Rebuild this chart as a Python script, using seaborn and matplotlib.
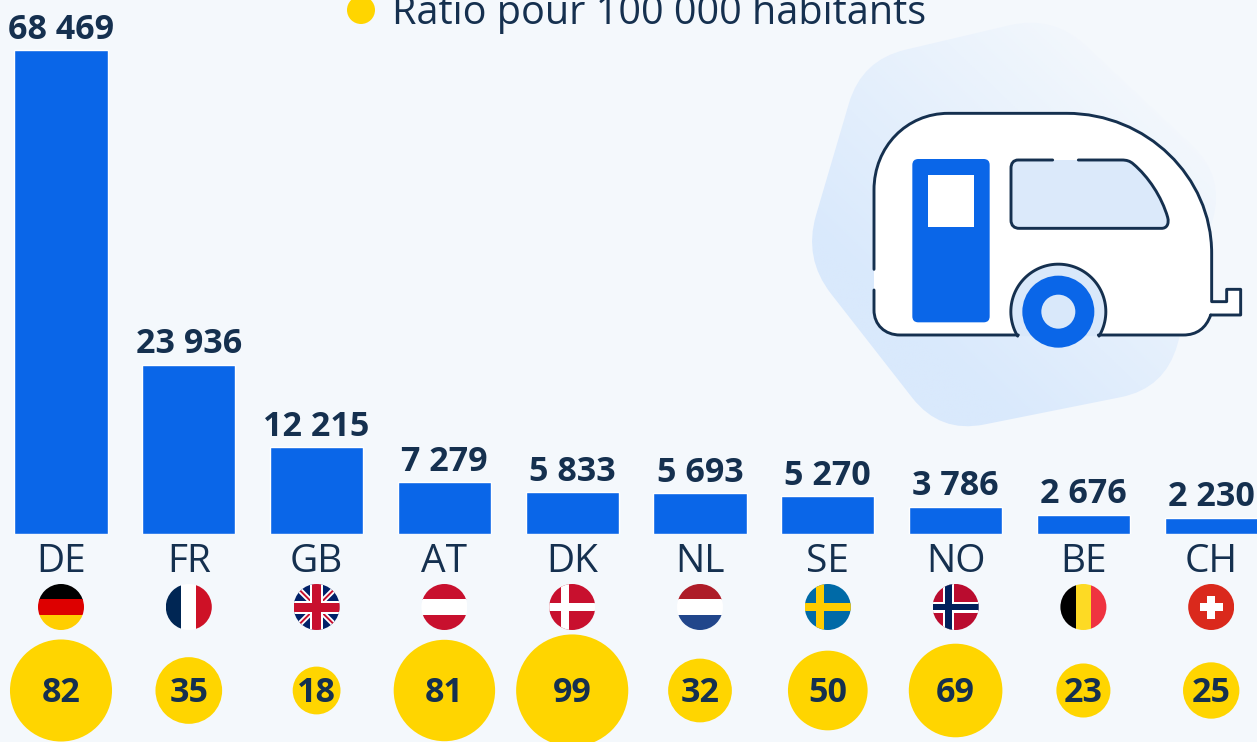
import numpy as np
import pandas as pd
import matplotlib
matplotlib.use("Agg")
import matplotlib.pyplot as plt
from matplotlib.path import Path
from matplotlib.patches import PathPatch, Circle, Rectangle, Polygon
import seaborn as sns

countries = ["DE", "FR", "GB", "AT", "DK", "NL", "SE", "NO", "BE", "CH"]
registrations = [68469, 23936, 12215, 7279, 5833, 5693, 5270, 3786, 2676, 2230]
ratios = [82, 35, 18, 81, 99, 32, 50, 69, 23, 25]
legend_label = "Ratio pour 100 000 habitants"

BG = "#f4f8fc"
BLUE = "#0a66e8"
NAVY = "#15304f"
YELLOW = "#ffd500"
FONT = ["Open Sans", "DejaVu Sans"]

sns.set_theme(style="white")
plt.rcParams["font.family"] = FONT

W, H = 1257, 742
fig = plt.figure(figsize=(W / 100, H / 100), dpi=100, facecolor=BG)

XLIM = (-61 / 127.8, (W - 61) / 127.8)

# ---------- decoration layer in pixel coordinates ----------
deco = fig.add_axes([0, 0, 1, 1], zorder=1)
deco.set_xlim(0, W)
deco.set_ylim(H, 0)
deco.axis("off")


def Z(x, y):
    return (800 + x / 3, 20 + y / 3)


def rounded_poly(pts, r):
    verts, codes = [], []
    n = len(pts)
    for i in range(n):
        p = np.array(pts[i], float)
        a = np.array(pts[i - 1], float)
        b = np.array(pts[(i + 1) % n], float)
        p1 = p + (a - p) / np.linalg.norm(a - p) * r
        p2 = p + (b - p) / np.linalg.norm(b - p) * r
        verts += [tuple(p1), tuple(p), tuple(p2)]
        codes += [Path.MOVETO if i == 0 else Path.LINETO, Path.CURVE3, Path.CURVE3]
    verts.append(verts[0])
    codes.append(Path.CLOSEPOLY)
    return Path(verts, codes)


# blob behind the caravan
blob_pts = [Z(185, 120), Z(760, -15), Z(1275, 470), Z(1095, 1105), Z(420, 1240), Z(10, 715)]
blob = PathPatch(rounded_poly(blob_pts, 45), fc="none", ec="none")
deco.add_patch(blob)
gx, gy = np.meshgrid(np.linspace(0, 1, 200), np.linspace(0, 1, 200))
g = np.clip(1.0 - 0.85 * gx + 0.85 * gy - 0.42, 0, 1)
c0 = np.array(matplotlib.colors.to_rgb(BG))
c1 = np.array(matplotlib.colors.to_rgb("#d9e9fc"))
img = c0 + (c1 - c0) * g[..., None]
im = deco.imshow(img, extent=(800, 1230, 430, 20), aspect="auto", zorder=1)
im.set_clip_path(blob)
deco.set_xlim(0, W)
deco.set_ylim(H, 0)

# caravan body
M, L, C = Path.MOVETO, Path.LINETO, Path.CURVE4
LW = 2.1
body = [
    (M, (222, 870)), (L, (222, 510)),
    (C, (222, 380)), (C, (320, 280)), (C, (445, 280)),
    (L, (800, 280)),
    (C, (1040, 280)), (C, (1235, 470)), (C, (1235, 700)),
    (L, (1235, 845)), (L, (1280, 845)), (L, (1280, 808)), (L, (1322, 808)),
    (L, (1322, 885)), (L, (1232, 885)),
    (C, (1218, 925)), (C, (1190, 945)), (C, (1150, 945)),
    (L, (300, 945)),
    (C, (255, 945)), (C, (222, 915)), (C, (222, 870)),
]
deco.add_patch(PathPatch(Path([Z(*p) for _, p in body], [c for c, _ in body]),
                         fc="white", ec="none", zorder=2))
# outline with the arch opening and the small gap on the left side
top_seq = [(M, (222, 748)), (L, (222, 510))] + body[2:14]
deco.add_patch(PathPatch(Path([Z(*p) for _, p in top_seq] + [Z(1232, 885)],
                              [c for c, _ in top_seq] + [L]),
                         fc="none", ec=NAVY, lw=LW, capstyle="round", joinstyle="round", zorder=4))
right_tail = [(M, (1232, 885)), (C, (1218, 925)), (C, (1190, 945)), (C, (1150, 945)), (L, (895, 945))]
left_tail = [(M, (655, 945)), (L, (300, 945)), (C, (255, 945)), (C, (222, 915)), (C, (222, 870)), (L, (222, 810))]
for seq in (right_tail, left_tail):
    deco.add_patch(PathPatch(Path([Z(*p) for _, p in seq], [c for c, _ in seq]),
                             fc="none", ec=NAVY, lw=LW, capstyle="round", zorder=4))

# wheel arch
cx, cy = Z(775, 875)
th = np.linspace(np.radians(211), np.radians(-31), 80)
R = 47.5
arch_x = cx + R * np.cos(th)
arch_y = cy - R * np.sin(th)
deco.add_patch(Polygon(np.c_[arch_x, arch_y], closed=True, fc="#d9e8fa", ec="none", zorder=3))
deco.plot(arch_x, arch_y, color=NAVY, lw=LW, solid_capstyle="round", zorder=4)
deco.add_patch(Circle(Z(775, 875), 36, fc=BLUE, ec="none", zorder=5))
deco.add_patch(Circle(Z(775, 875), 17, fc="#d9e8fa", ec="none", zorder=6))

# door
door = rounded_poly([Z(337, 417), Z(569, 417), Z(569, 907), Z(337, 907)], 6)
deco.add_patch(PathPatch(door, fc=BLUE, ec="none", zorder=5))
deco.add_patch(Rectangle(Z(385, 464), 136 / 3, 158 / 3, fc="white", ec="none", zorder=6))

# window
win_seq = [
    (M, (758, 420)), (L, (655, 420)), (C, (640, 420)), (C, (633, 430)), (C, (633, 445)),
    (L, (633, 600)), (C, (633, 617)), (C, (643, 625)), (C, (658, 625)),
    (L, (1085, 625)), (C, (1100, 625)), (C, (1108, 612)), (C, (1103, 592)),
    (C, (1085, 530)), (C, (1045, 470)), (C, (1000, 432)),
    (C, (990, 423)), (C, (980, 420)), (C, (965, 420)),
    (L, (835, 420)),
]
win_path = Path([Z(*p) for _, p in win_seq], [c for c, _ in win_seq])
deco.add_patch(PathPatch(win_path, fc="#dbe9fa", ec="none", zorder=4))
deco.add_patch(PathPatch(win_path, fc="none", ec=NAVY, lw=LW, capstyle="round", zorder=5))

# flags
flag_y = 607
flag_r = 23


def flag(i, draw):
    x0 = 61 + 127.8 * i
    clip = Circle((x0, flag_y), flag_r, transform=deco.transData)

    def add(artist):
        deco.add_artist(artist)
        artist.set_clip_path(clip)

    def rect(x, y, w, h, c):
        add(Rectangle((x0 + x, flag_y + y), w, h, fc=c, ec="none", zorder=3))

    def line(x1, y1, x2, y2, c, lw):
        add(plt.Line2D([x0 + x1, x0 + x2], [flag_y + y1, flag_y + y2], color=c, lw=lw, zorder=3))

    draw(rect, line)


def hstripes(a, b, c):
    def d(rect, line):
        rect(-23, -23, 46, 15.5, a)
        rect(-23, -7.6, 46, 15.2, b)
        rect(-23, 7.6, 46, 15.5, c)
    return d


def vstripes(a, b, c):
    def d(rect, line):
        rect(-23, -23, 15.5, 46, a)
        rect(-7.6, -23, 15.2, 46, b)
        rect(7.6, -23, 15.5, 46, c)
    return d


def uk(rect, line):
    rect(-23, -23, 46, 46, "#012169")
    line(-23, -23, 23, 23, "white", 4.0)
    line(-23, 23, 23, -23, "white", 4.0)
    line(-23, -23, 23, 23, "#c8102e", 1.4)
    line(-23, 23, 23, -23, "#c8102e", 1.4)
    rect(-23, -6.5, 46, 13, "white")
    rect(-6.5, -23, 13, 46, "white")
    rect(-23, -4.5, 46, 9, "#c8102e")
    rect(-4.5, -23, 9, 46, "#c8102e")


def nordic(bg, outer, inner=None, shift=-11):
    def d(rect, line):
        rect(-23, -23, 46, 46, bg)
        rect(-23, -4, 46, 8, outer)
        rect(shift, -23, 8, 46, outer)
        if inner:
            rect(-23, -5.5, 46, 11, "white")
            rect(shift - 1.5, -23, 11, 46, "white")
            rect(-23, -3.2, 46, 6.4, inner)
            rect(shift + 0.8, -23, 6.4, 46, inner)
    return d


def swiss(rect, line):
    rect(-23, -23, 46, 46, "#da291c")
    rect(-11.5, -4, 23, 8, "white")
    rect(-4, -11.5, 8, 23, "white")


flag_draw = [
    hstripes("#000000", "#dd0000", "#ffce00"),
    vstripes("#002654", "#ffffff", "#ce1126"),
    uk,
    hstripes("#c8102e", "#ffffff", "#c8102e"),
    nordic("#c8102e", "#ffffff"),
    hstripes("#ae1c28", "#ffffff", "#21468b"),
    nordic("#006aa7", "#fecc00", shift=-12),
    nordic("#ba0c2f", "#00205b", "#00205b"),
    vstripes("#000000", "#fdda24", "#ef3340"),
    swiss,
]
for i, d in enumerate(flag_draw):
    flag(i, d)

# legend
deco.add_patch(Circle((361, 10), 14, fc=YELLOW, ec="none", zorder=3))
deco.text(392, 24, legend_label, fontsize=28.5, color=NAVY, va="baseline", ha="left", zorder=3, clip_on=False)

# ---------- bars ----------
df = pd.DataFrame({"country": countries, "count": registrations, "ratio": ratios, "row": np.zeros(10)})

ax = fig.add_axes([0, (H - 533.5) / H, 1, 533.5 / H], zorder=2)
ax.patch.set_alpha(0)
sns.barplot(data=df, x="country", y="count", color=BLUE, saturation=1, width=0.73, ax=ax, order=countries)
ax.set_xlim(*XLIM)
ax.set_ylim(0, 533.5 / 483 * max(registrations))
ax.bar_label(ax.containers[0], labels=[f"{v:,}".replace(",", " ") for v in registrations],
             fontsize=24.5, fontweight="bold", color=NAVY, padding=2.5, clip_on=False)
ax.set_xlabel("")
ax.set_ylabel("")
ax.set_yticks([])
ax.tick_params(axis="x", length=0, pad=6.5, labelsize=28, labelcolor=NAVY)
sns.despine(ax=ax, left=True, bottom=True)

# ---------- bubbles ----------
ax2 = fig.add_axes([0, 0, 1, 103 / H], zorder=3)
ax2.patch.set_alpha(0)
k = 127 * 0.5184
sns.scatterplot(data=df, x="country", y="row", size="ratio", size_norm=(min(ratios), max(ratios)),
                sizes=(k * min(ratios), k * max(ratios)), color=YELLOW, linewidth=0,
                legend=False, ax=ax2, clip_on=False, alpha=1)
ax2.set_xlim(*XLIM)
ax2.set_ylim(-1, 1)
ax2.axis("off")
for i, r in enumerate(ratios):
    ax2.annotate(str(r), (i, 0), xytext=(0, 1), textcoords="offset points", ha="center",
                 va="center_baseline", fontsize=24.5, fontweight="bold", color=NAVY, zorder=5)

fig.savefig("out.png", dpi=100, facecolor=BG)
